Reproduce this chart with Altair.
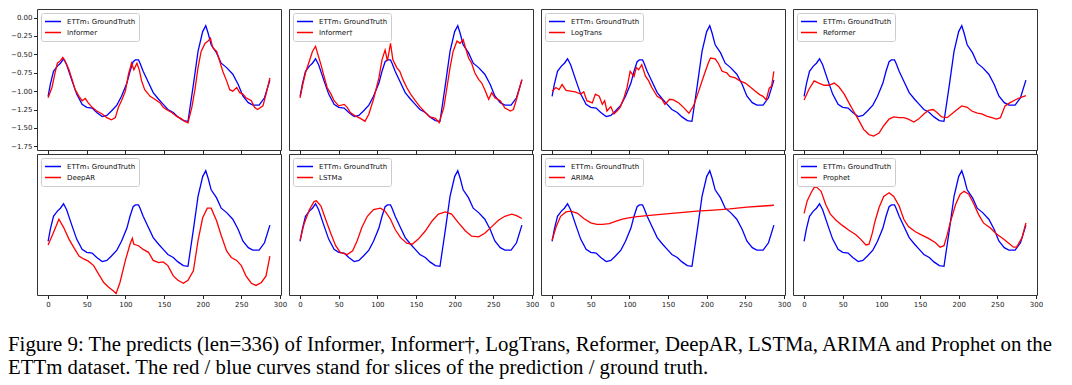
import altair as alt
import pandas as pd

GT_LABEL = "ETTm\u2081 GroundTruth"

GT_T = [0, 3, 7, 12, 16, 20, 24, 31, 37, 44, 50, 57, 63, 70, 76, 82, 89, 95, 102, 106,
        110, 113, 117, 119, 123, 130, 136, 143, 149, 155, 162, 168, 175, 181, 188, 194,
        200, 204, 207, 211, 218, 224, 231, 239, 246, 252, 259, 265, 273, 280, 287]
GT_V = [-1.07, -0.90, -0.73, -0.66, -0.62, -0.56, -0.64, -0.86, -1.04, -1.18, -1.22, -1.23,
        -1.29, -1.345, -1.33, -1.27, -1.19, -1.07, -0.89, -0.73, -0.60, -0.575, -0.575, -0.62,
        -0.73, -0.886, -1.02, -1.11, -1.18, -1.25, -1.29, -1.35, -1.40, -1.41, -0.91, -0.46,
        -0.19, -0.11, -0.21, -0.37, -0.48, -0.62, -0.68, -0.77, -0.91, -1.066, -1.156, -1.19,
        -1.19, -1.09, -0.85]

INFORMER_T = [0, 5, 9, 12, 16, 19, 22, 27, 31, 35, 40, 44, 48, 52, 57, 63, 70, 76, 82, 87,
              91, 95, 100, 104, 108, 111, 115, 118, 121, 125, 132, 138, 145, 149, 153, 160,
              166, 173, 177, 181, 186, 190, 194, 198, 203, 207, 210, 213, 218, 222, 226, 231,
              235, 239, 244, 248, 252, 256, 263, 267, 271, 278, 282, 287]
INFORMER_V = [-1.09, -0.95, -0.75, -0.62, -0.585, -0.54, -0.59, -0.71, -0.84, -0.98, -1.07,
              -1.13, -1.10, -1.16, -1.22, -1.27, -1.31, -1.36, -1.39, -1.36, -1.22, -1.13, -1.00,
              -0.77, -0.62, -0.71, -0.62, -0.71, -0.86, -0.98, -1.07, -1.11, -1.16, -1.22, -1.25,
              -1.29, -1.34, -1.38, -1.41, -1.43, -1.22, -0.98, -0.68, -0.46, -0.35, -0.32, -0.28,
              -0.41, -0.46, -0.59, -0.73, -0.86, -0.98, -1.00, -0.95, -1.02, -1.04, -1.09, -1.13,
              -1.22, -1.25, -1.20, -1.04, -0.82]

INFORMER2_T = [0, 3, 7, 12, 16, 20, 23, 27, 31, 35, 40, 44, 50, 57, 61, 65, 72, 78, 84, 89,
               95, 102, 106, 110, 113, 117, 120, 125, 129, 133, 138, 143, 149, 155, 162, 168,
               175, 180, 186, 190, 194, 198, 203, 207, 211, 214, 218, 222, 226, 231, 235, 239,
               244, 248, 252, 259, 265, 272, 276, 280, 287]
INFORMER2_V = [-1.09, -0.93, -0.75, -0.59, -0.46, -0.39, -0.50, -0.64, -0.80, -0.95, -1.04,
               -1.13, -1.20, -1.18, -1.22, -1.29, -1.34, -1.37, -1.41, -1.31, -1.11, -0.82, -0.57,
               -0.44, -0.59, -0.35, -0.57, -0.68, -0.73, -0.84, -0.95, -1.04, -1.13, -1.21, -1.29,
               -1.35, -1.37, -1.43, -1.22, -0.95, -0.68, -0.46, -0.32, -0.35, -0.30, -0.41, -0.55,
               -0.62, -0.75, -0.84, -0.89, -0.98, -1.11, -1.02, -1.09, -1.13, -1.23, -1.27, -1.25,
               -1.11, -0.84]

LOGTRANS_T = [0, 5, 9, 13, 18, 24, 30, 37, 41, 45, 52, 56, 61, 65, 68, 71, 76, 80, 84, 88,
              93, 97, 101, 106, 109, 112, 116, 121, 125, 129, 136, 142, 146, 152, 157, 164, 170,
              177, 183, 189, 196, 202, 205, 211, 215, 220, 226, 230, 237, 243, 250, 256, 263,
              269, 273, 277, 281, 284, 287]
LOGTRANS_V = [-1.00, -0.95, -0.98, -0.91, -0.99, -1.00, -1.01, -1.04, -1.01, -1.13, -1.16,
              -1.04, -1.07, -1.18, -1.13, -1.27, -1.21, -1.31, -1.27, -1.22, -1.09, -0.95, -0.73,
              -0.80, -0.68, -0.71, -0.64, -0.80, -0.86, -0.95, -1.07, -1.11, -1.18, -1.11, -1.12,
              -1.16, -1.22, -1.30, -1.20, -1.02, -0.80, -0.62, -0.55, -0.56, -0.62, -0.73, -0.75,
              -0.80, -0.82, -0.86, -0.89, -0.94, -1.00, -1.05, -1.07, -1.12, -0.96, -0.93, -0.73]

REFORMER_T = [0, 6, 13, 19, 26, 32, 39, 45, 52, 58, 65, 71, 77, 84, 90, 97, 103, 110, 116,
              123, 129, 135, 142, 148, 155, 161, 167, 172, 178, 185, 191, 198, 204, 211, 217,
              224, 230, 236, 243, 249, 254, 260, 266, 273, 279, 287]
REFORMER_V = [-1.12, -0.98, -0.86, -0.89, -0.92, -0.92, -0.89, -0.94, -1.04, -1.16, -1.29,
              -1.40, -1.52, -1.59, -1.61, -1.57, -1.47, -1.38, -1.35, -1.36, -1.36, -1.38, -1.42,
              -1.38, -1.31, -1.26, -1.25, -1.29, -1.35, -1.36, -1.31, -1.25, -1.20, -1.22, -1.27,
              -1.30, -1.31, -1.34, -1.36, -1.38, -1.36, -1.20, -1.16, -1.12, -1.09, -1.06]

DEEPAR_T = [0, 7, 14, 20, 27, 33, 40, 46, 52, 59, 65, 72, 78, 85, 88, 93, 100, 106, 109, 111,
            117, 123, 130, 136, 143, 149, 155, 162, 168, 175, 181, 188, 194, 200, 206, 211, 218,
            224, 231, 237, 244, 250, 256, 263, 269, 276, 282, 287]
DEEPAR_V = [-1.12, -0.95, -0.77, -0.88, -1.04, -1.15, -1.27, -1.31, -1.34, -1.40, -1.51, -1.63,
            -1.69, -1.75, -1.78, -1.63, -1.33, -1.11, -1.03, -1.11, -1.13, -1.18, -1.22, -1.33,
            -1.36, -1.35, -1.40, -1.54, -1.60, -1.64, -1.60, -1.47, -1.06, -0.75, -0.62, -0.62,
            -0.79, -0.99, -1.20, -1.29, -1.33, -1.40, -1.54, -1.64, -1.67, -1.63, -1.54, -1.27]

LSTMA_T = [0, 5, 12, 18, 21, 27, 33, 40, 46, 52, 61, 68, 74, 80, 87, 95, 104, 110, 117, 123,
           130, 138, 145, 153, 162, 171, 179, 188, 196, 205, 214, 222, 231, 239, 248, 257, 265,
           274, 280, 287]
LSTMA_V = [-1.055, -0.84, -0.64, -0.53, -0.52, -0.59, -0.77, -0.97, -1.13, -1.22, -1.25, -1.20,
           -1.06, -0.88, -0.73, -0.64, -0.62, -0.66, -0.77, -0.91, -1.02, -1.095, -1.11, -1.04,
           -0.93, -0.79, -0.70, -0.67, -0.70, -0.82, -0.93, -1.00, -1.01, -0.96, -0.87, -0.78,
           -0.73, -0.70, -0.72, -0.76]

ARIMA_T = [0, 5, 11, 18, 24, 33, 41, 50, 58, 65, 74, 82, 91, 99, 110, 123, 144, 166, 187,
           209, 230, 252, 273, 287]
ARIMA_V = [-1.055, -0.88, -0.73, -0.67, -0.66, -0.69, -0.76, -0.82, -0.84, -0.84, -0.83, -0.80,
           -0.77, -0.75, -0.735, -0.72, -0.70, -0.68, -0.66, -0.645, -0.63, -0.605, -0.59, -0.58]

PROPHET_T = [0, 4, 9, 13, 16, 22, 28, 34, 41, 49, 58, 67, 73, 80, 84, 88, 92, 97, 103, 110,
             116, 123, 129, 135, 144, 153, 161, 170, 176, 181, 185, 189, 196, 202, 207, 213, 219,
             226, 232, 241, 249, 258, 264, 271, 275, 282, 287]
PROPHET_V = [-0.69, -0.52, -0.41, -0.34, -0.33, -0.39, -0.57, -0.70, -0.78, -0.85, -0.92, -0.98,
             -1.04, -1.12, -1.11, -0.97, -0.79, -0.61, -0.46, -0.41, -0.46, -0.59, -0.77, -0.87,
             -0.94, -0.99, -1.03, -1.09, -1.15, -1.13, -0.99, -0.82, -0.57, -0.43, -0.39, -0.43,
             -0.55, -0.71, -0.82, -0.89, -0.97, -1.04, -1.09, -1.15, -1.15, -1.02, -0.82]

MODELS = [
    ("Informer", INFORMER_T, INFORMER_V),
    ("Informer\u2020", INFORMER2_T, INFORMER2_V),
    ("LogTrans", LOGTRANS_T, LOGTRANS_V),
    ("Reformer", REFORMER_T, REFORMER_V),
    ("DeepAR", DEEPAR_T, DEEPAR_V),
    ("LSTMa", LSTMA_T, LSTMA_V),
    ("ARIMA", ARIMA_T, ARIMA_V),
    ("Prophet", PROPHET_T, PROPHET_V),
]

X_TICKS = [0, 50, 100, 150, 200, 250, 300]
Y_TICKS = [0.0, -0.25, -0.5, -0.75, -1.0, -1.25, -1.5, -1.75]

CAPTION = [
    "Figure 9: The predicts (len=336) of Informer, Informer\u2020, LogTrans, Reformer, DeepAR, LSTMa, ARIMA and Prophet on the",
    "ETTm dataset. The red / blue curves stand for slices of the prediction / ground truth.",
]

W, H = 244, 141
FONT = "DejaVu Sans"


def panel(idx, name, mt, mv):
    rows = [{"t": t, "v": v, "s": GT_LABEL} for t, v in zip(GT_T, GT_V)]
    rows += [{"t": t, "v": v, "s": name} for t, v in zip(mt, mv)]
    df = pd.DataFrame(rows)
    top = idx < 4
    first = idx == 0
    xaxis = alt.Axis(values=X_TICKS, labels=not top, tickSize=3.5, tickColor="#222",
                     labelFont=FONT, labelFontSize=7, labelColor="#222", labelPadding=2,
                     domain=False, grid=False, title=None, labelFlush=False)
    if first:
        yaxis = alt.Axis(values=Y_TICKS, format=".2f", tickSize=3.5, tickColor="#222",
                         labelFont=FONT, labelFontSize=7, labelColor="#222", labelPadding=1.5,
                         domain=False, grid=False, title=None)
    else:
        yaxis = None
    legend = alt.Legend(orient="top-left", title=None, fillColor="white",
                        strokeColor="#cccccc", cornerRadius=2, padding=3, offset=4,
                        labelFont=FONT, labelFontSize=7, labelColor="#111",
                        symbolType="stroke", symbolSize=256, symbolStrokeWidth=1.5,
                        rowPadding=0, clipHeight=11, labelOffset=5, labelLimit=200)
    return alt.Chart(df).mark_line(strokeWidth=1.3, clip=True).encode(
        x=alt.X("t:Q", scale=alt.Scale(domain=[-14.35, 301.35], nice=False, zero=False), axis=xaxis),
        y=alt.Y("v:Q", scale=alt.Scale(domain=[-1.80, 0.117], nice=False, zero=False), axis=yaxis),
        color=alt.Color("s:N", scale=alt.Scale(domain=[GT_LABEL, name], range=["#0000ff", "#ff0000"]),
                        legend=legend),
        detail="s:N",
    ).properties(width=W, height=H, view=alt.ViewBackground(stroke="#333", strokeWidth=1))


panels = [panel(i, n, t, v) for i, (n, t, v) in enumerate(MODELS)]

grid = (
    alt.concat(*panels, columns=4, spacing={"row": 4, "column": 8}, bounds="flush")
    .resolve_scale(color="independent", x="independent", y="independent")
    .resolve_legend(color="independent")
)

chart = (
    alt.vconcat(grid)
    .resolve_scale(color="independent", x="independent", y="independent")
    .resolve_legend(color="independent")
    .properties(
        title=alt.TitleParams(text=CAPTION, orient="bottom", anchor="start",
                              font="Liberation Serif", fontSize=20.8, fontWeight="normal",
                              color="black", lineHeight=23, offset=27, dx=-2),
        padding={"left": 0, "top": 0, "right": 0, "bottom": 5},
    )
    .configure_view(stroke="#333", strokeWidth=1)
    .configure(background="white")
)

chart.save("out.html", embed_options={"renderer": "svg", "actions": False})
